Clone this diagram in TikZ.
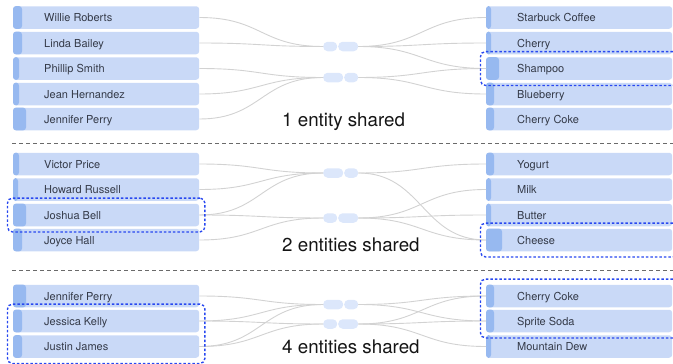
\documentclass[tikz,border=0pt]{standalone}
\usepackage{fontspec}
\setmainfont{TeX Gyre Heros}
\usetikzlibrary{fit}
\definecolor{boxc}{HTML}{C9D9F7}
\definecolor{barc}{HTML}{97B9F0}
\definecolor{pillc}{HTML}{DCE7FB}
\definecolor{connc}{HTML}{D2D2D2}
\definecolor{hlc}{HTML}{2848F0}
\definecolor{sepc}{HTML}{6A6A6A}
\definecolor{txtc}{HTML}{343A48}
\definecolor{bigc}{HTML}{151515}
\tikzset{
 entbox/.style={rectangle, rounded corners=3pt, fill=boxc, minimum width=186pt, minimum height=22.5pt, inner sep=0pt, anchor=west},
 txt/.style={anchor=base west, inner sep=0pt, text=txtc, font=\fontsize{11}{13}\selectfont},
 pill/.style={rectangle, rounded corners=4.5pt, fill=pillc, minimum height=9.5pt, inner sep=0pt, anchor=west},
 conn/.style={draw=connc, line width=0.9pt},
 hl/.style={draw=hlc, dash pattern=on 2.5pt off 2pt, line width=1.4pt, rounded corners=5pt, inner sep=5.5pt},
 sepline/.style={draw=sepc, dash pattern=on 4pt off 3pt, line width=0.9pt},
 big/.style={anchor=base west, inner sep=0pt, font=\fontsize{18.75}{22}\selectfont, text=bigc}
}
\newcommand\entbox[5]{%
 \node[entbox] (#1) at (#2,#3) {};
 \fill[barc, rounded corners=3pt] (#1.north west) rectangle ([xshift=#4pt]#1.south west);
 \node[txt] (#1t) at ([xshift=31pt,yshift=-4pt]#1.west) {#5};}
\newcommand\lconn[2]{\draw[conn] (#1.east) .. controls +(62,0) and +(-62,0) .. (#2.west);}
\newcommand\rconn[2]{\draw[conn] (#1.east) .. controls +(64,0) and +(-64,0) .. (#2.west);}
\begin{document}
\begin{tikzpicture}[x=1pt,y=-1pt]
\useasboundingbox (0,0) rectangle (673,364);
% separators
\coordinate (sa1) at (12,143); \coordinate (sa2) at (673,143);
\coordinate (sb1) at (12,270); \coordinate (sb2) at (673,270);
\draw[sepline] (sa1) -- (sa2);
\draw[sepline] (sb1) -- (sb2);
% ---------- section 1
\entbox{l1a}{13}{17.5}{9}{Willie Roberts}
\entbox{l1b}{13}{43}{9}{Linda Bailey}
\entbox{l1c}{13}{68.5}{6}{Phillip Smith}
\entbox{l1d}{13}{94}{6}{Jean Hernandez}
\entbox{l1e}{13}{119}{13}{Jennifer Perry}
\entbox{r1a}{486}{17.5}{5}{Starbuck Coffee}
\entbox{r1b}{486}{43}{5}{Cherry}
\entbox{r1c}{486}{68.5}{13}{Shampoo}
\entbox{r1d}{486}{94}{8}{Blueberry}
\entbox{r1e}{486}{119}{8}{Cherry Coke}
\node[pill, minimum width=14pt] (p1ta) at (323,46.5) {};
\node[pill, minimum width=20pt] (p1tb) at (338,46.5) {};
\node[pill, minimum width=20pt] (p1ba) at (323,77.5) {};
\node[pill, minimum width=14pt] (p1bb) at (344,77.5) {};
\lconn{l1a}{p1ta}\lconn{l1b}{p1ta}
\lconn{l1c}{p1ba}\lconn{l1d}{p1ba}\lconn{l1e}{p1ba}
\rconn{p1tb}{r1a}\rconn{p1tb}{r1b}\rconn{p1tb}{r1c}
\rconn{p1bb}{r1c}\rconn{p1bb}{r1d}
\node[big] (t1) at (282,126) {1 entity shared};
\node[hl, fit=(r1c)] (h1) {};
% ---------- section 2
\entbox{l2a}{13}{164}{6}{Victor Price}
\entbox{l2b}{13}{189.5}{5}{Howard Russell}
\entbox{l2c}{13}{215}{13}{Joshua Bell}
\entbox{l2d}{13}{240}{9}{Joyce Hall}
\entbox{r2a}{486}{164}{8}{Yogurt}
\entbox{r2b}{486}{189.5}{5}{Milk}
\entbox{r2c}{486}{215}{5}{Butter}
\entbox{r2d}{486}{240}{16}{Cheese}
\node[pill, minimum width=20pt] (p2ta) at (323,173) {};
\node[pill, minimum width=14pt] (p2tb) at (344,173) {};
\node[pill, minimum width=14pt] (p2ba) at (323,218) {};
\node[pill, minimum width=20pt] (p2bb) at (338,218) {};
\lconn{l2a}{p2ta}\lconn{l2b}{p2ta}\lconn{l2c}{p2ta}
\lconn{l2c}{p2ba}\lconn{l2d}{p2ba}
\rconn{p2tb}{r2a}\rconn{p2tb}{r2d}
\rconn{p2bb}{r2b}\rconn{p2bb}{r2c}\rconn{p2bb}{r2d}
\node[big] (t2) at (282,251) {2 entities shared};
\node[hl, fit=(l2c)] (h2) {};
\node[hl, fit=(r2d)] (h3) {};
% ---------- section 3
\entbox{l3a}{13}{296}{13}{Jennifer Perry}
\entbox{l3b}{13}{321}{9}{Jessica Kelly}
\entbox{l3c}{13}{346.5}{9}{Justin James}
\entbox{r3a}{486}{296}{8}{Cherry Coke}
\entbox{r3b}{486}{321}{8}{Sprite Soda}
\entbox{r3c}{486}{346.5}{5}{Mountain Dew}
\node[pill, minimum width=20pt] (p3ta) at (323,304.5) {};
\node[pill, minimum width=14pt] (p3tb) at (344,304.5) {};
\node[pill, minimum width=14pt] (p3ba) at (323,324) {};
\node[pill, minimum width=20pt] (p3bb) at (338,324) {};
\lconn{l3a}{p3ta}\lconn{l3b}{p3ta}\lconn{l3c}{p3ta}
\lconn{l3b}{p3ba}\lconn{l3c}{p3ba}
\rconn{p3tb}{r3a}\rconn{p3tb}{r3b}
\rconn{p3bb}{r3a}\rconn{p3bb}{r3b}\rconn{p3bb}{r3c}
\node[big] (t3) at (282,353) {4 entities shared};
\node[hl, fit=(l3b)(l3c)] (h4) {};
\node[hl, fit=(r3a)(r3b)] (h5) {};
\end{tikzpicture}
\end{document}
